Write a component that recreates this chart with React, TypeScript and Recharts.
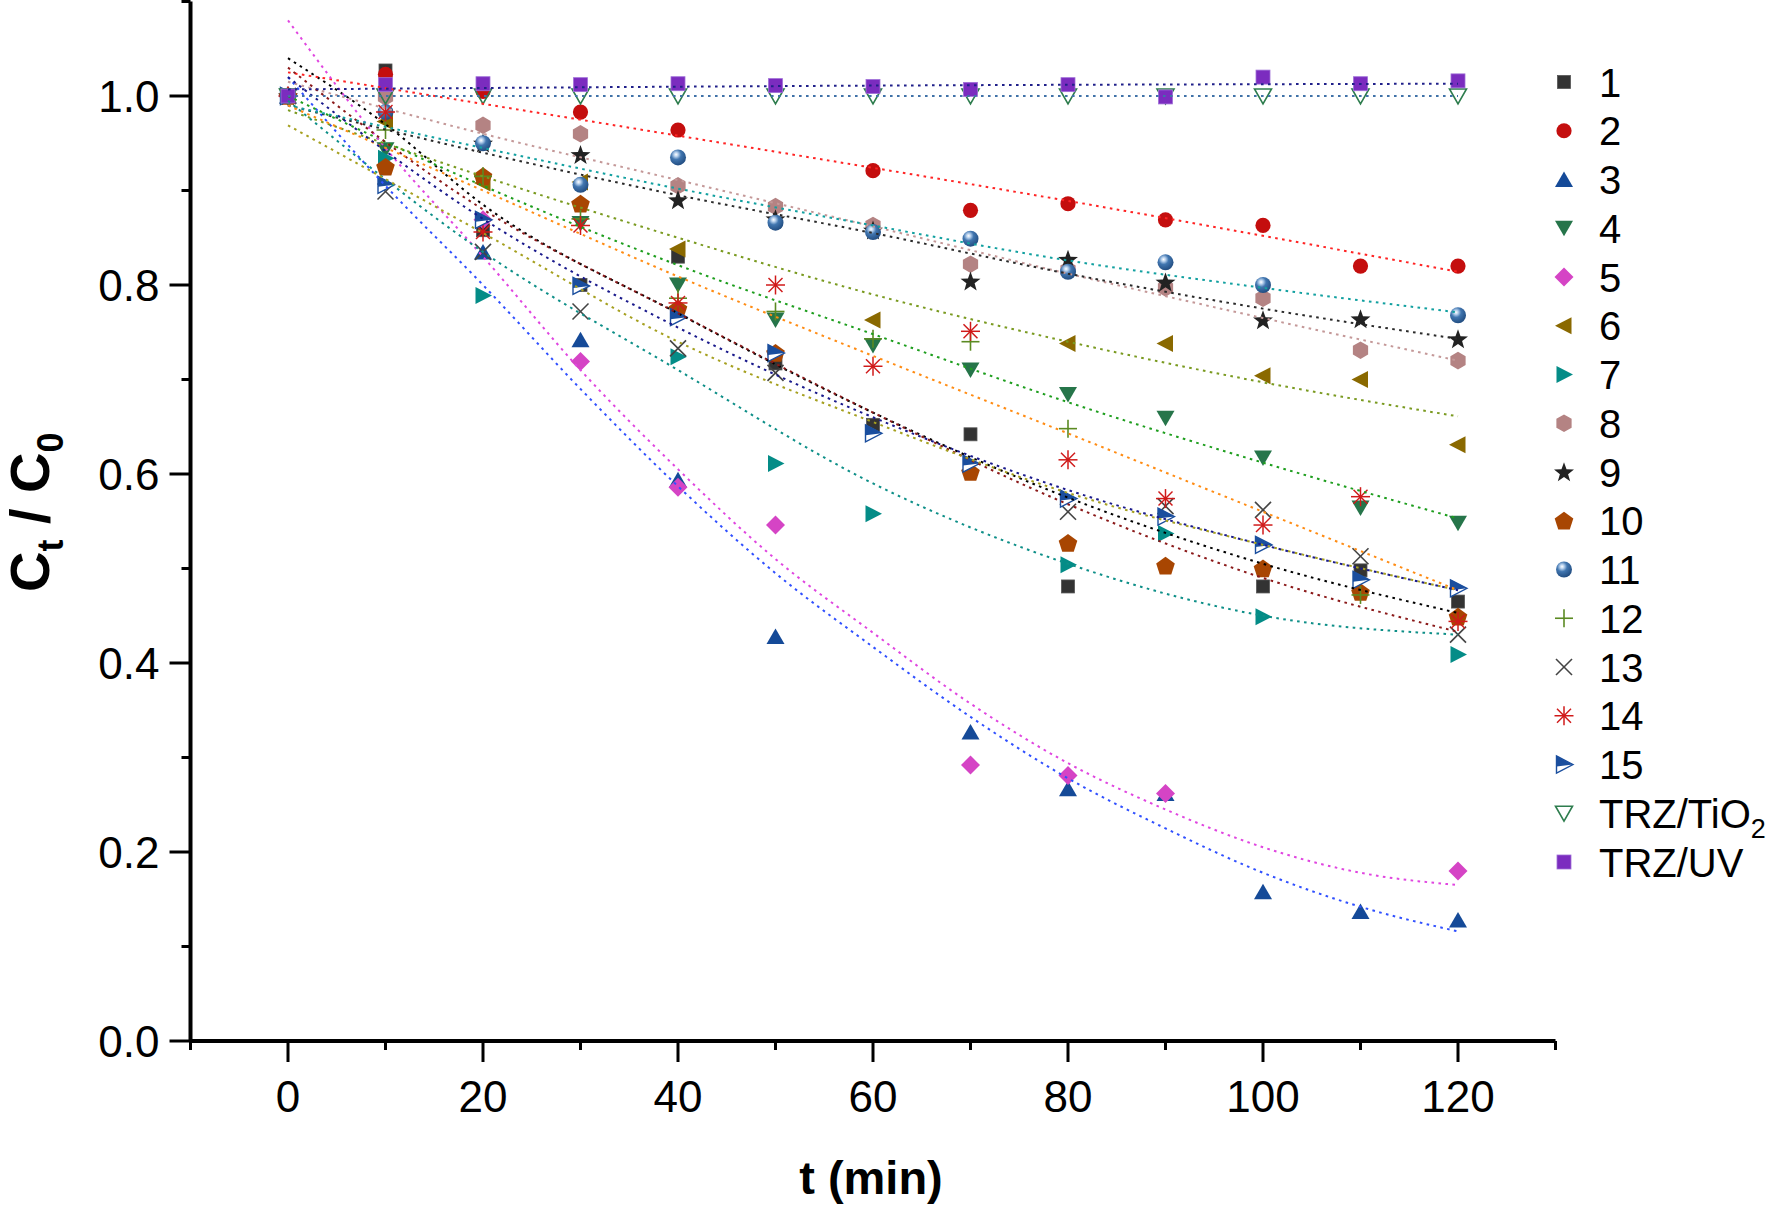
import React from 'react';
import { ScatterChart, Scatter, XAxis, YAxis } from 'recharts';

type P = [number, number];

// ---- measured points (t in min, Ct/C0) ----
const s1: P[] = [[0, 1.0], [10, 1.027], [20, 0.858], [30, 0.8], [40, 0.83], [50, 0.717], [60, 0.652], [70, 0.642], [80, 0.481], [100, 0.481], [110, 0.498], [120, 0.465]];
const s2: P[] = [[0, 1.0], [10, 1.023], [20, 1.005], [30, 0.983], [40, 0.964], [60, 0.921], [70, 0.879], [80, 0.886], [90, 0.869], [100, 0.863], [110, 0.82], [120, 0.82]];
const s3: P[] = [[0, 1.0], [20, 0.835], [30, 0.742], [40, 0.594], [50, 0.428], [70, 0.327], [80, 0.267], [90, 0.262], [100, 0.158], [110, 0.137], [120, 0.128]];
const s4: P[] = [[0, 1.0], [10, 0.943], [30, 0.865], [40, 0.8], [50, 0.763], [60, 0.736], [70, 0.71], [80, 0.684], [90, 0.659], [100, 0.617], [110, 0.564], [120, 0.548]];
const s5: P[] = [[0, 1.0], [20, 0.869], [30, 0.719], [40, 0.586], [50, 0.546], [70, 0.292], [80, 0.281], [90, 0.262], [120, 0.18]];
const s6: P[] = [[0, 1.0], [10, 0.973], [20, 0.908], [30, 0.909], [40, 0.838], [60, 0.763], [80, 0.738], [90, 0.738], [100, 0.704], [110, 0.7], [120, 0.631]];
const s7: P[] = [[0, 1.0], [10, 0.934], [20, 0.789], [40, 0.724], [50, 0.611], [60, 0.558], [80, 0.504], [90, 0.537], [100, 0.449], [120, 0.409]];
const s8: P[] = [[0, 1.0], [10, 0.999], [20, 0.969], [30, 0.96], [40, 0.905], [50, 0.883], [60, 0.863], [70, 0.822], [80, 0.816], [90, 0.797], [100, 0.786], [110, 0.731], [120, 0.72]];
const s9: P[] = [[0, 1.0], [20, 0.95], [30, 0.938], [40, 0.89], [50, 0.87], [60, 0.858], [70, 0.804], [80, 0.827], [90, 0.803], [100, 0.763], [110, 0.764], [120, 0.743]];
const s10: P[] = [[0, 1.0], [10, 0.925], [20, 0.915], [30, 0.886], [40, 0.775], [50, 0.728], [70, 0.602], [80, 0.527], [90, 0.503], [100, 0.5], [110, 0.475], [120, 0.449]];
const s11: P[] = [[0, 1.0], [10, 0.983], [20, 0.95], [30, 0.906], [40, 0.935], [50, 0.866], [60, 0.856], [70, 0.849], [80, 0.814], [90, 0.824], [100, 0.8], [120, 0.768]];
const s12: P[] = [[0, 1.0], [10, 0.964], [20, 0.915], [30, 0.87], [40, 0.786], [50, 0.772], [60, 0.743], [70, 0.74], [80, 0.648], [110, 0.472]];
const s13: P[] = [[0, 1.0], [10, 0.899], [20, 0.835], [30, 0.772], [40, 0.733], [50, 0.707], [80, 0.56], [90, 0.566], [100, 0.562], [110, 0.513], [120, 0.43]];
const s14: P[] = [[0, 1.0], [10, 0.983], [20, 0.856], [30, 0.863], [40, 0.781], [50, 0.8], [60, 0.714], [70, 0.751], [80, 0.615], [90, 0.574], [100, 0.546], [110, 0.576], [120, 0.444]];
const s15: P[] = [[0, 1.0], [10, 0.906], [20, 0.869], [30, 0.799], [40, 0.766], [50, 0.728], [60, 0.643], [70, 0.611], [80, 0.574], [90, 0.555], [100, 0.525], [110, 0.488], [120, 0.479]];
const sTiO2: P[] = [[0, 1.0], [10, 1.0], [20, 1.0], [30, 1.0], [40, 1.0], [50, 1.0], [60, 1.0], [70, 1.0], [80, 1.0], [90, 1.0], [100, 1.0], [110, 1.0], [120, 1.0]];
const sUV: P[] = [[0, 1.0], [10, 1.012], [20, 1.013], [30, 1.012], [40, 1.013], [50, 1.011], [60, 1.01], [70, 1.007], [80, 1.012], [90, 0.999], [100, 1.02], [110, 1.013], [120, 1.016]];

// ---- fitted curves ----
const f1: P[] = [[0, 1.04], [10, 0.97], [20, 0.885], [40, 0.77], [60, 0.665], [80, 0.575], [100, 0.505], [120, 0.453]];
const f2: P[] = [[0, 1.025], [40, 0.958], [80, 0.889], [120, 0.814]];
const f3: P[] = [[0, 1.02], [10, 0.905], [20, 0.8], [30, 0.69], [40, 0.587], [50, 0.495], [60, 0.417], [70, 0.343], [80, 0.278], [90, 0.225], [100, 0.178], [110, 0.142], [120, 0.116]];
const f4: P[] = [[0, 1.0], [20, 0.905], [40, 0.821], [60, 0.748], [80, 0.676], [100, 0.612], [120, 0.553]];
const f5: P[] = [[0, 1.08], [10, 0.945], [20, 0.83], [30, 0.71], [40, 0.605], [50, 0.51], [60, 0.432], [70, 0.357], [80, 0.294], [90, 0.245], [100, 0.205], [110, 0.178], [120, 0.165]];
const f6: P[] = [[0, 0.985], [20, 0.915], [40, 0.85], [60, 0.79], [80, 0.74], [100, 0.697], [120, 0.661]];
const f7: P[] = [[0, 0.995], [20, 0.835], [40, 0.71], [60, 0.59], [80, 0.505], [100, 0.45], [120, 0.43]];
const f8: P[] = [[0, 1.015], [20, 0.96], [40, 0.911], [60, 0.862], [80, 0.812], [100, 0.765], [120, 0.72]];
const f9: P[] = [[0, 0.99], [20, 0.94], [40, 0.895], [60, 0.855], [80, 0.812], [100, 0.775], [120, 0.743]];
const f10: P[] = [[0, 1.03], [20, 0.88], [40, 0.77], [60, 0.665], [80, 0.568], [100, 0.49], [120, 0.433]];
const f11: P[] = [[0, 0.99], [20, 0.945], [40, 0.902], [60, 0.863], [80, 0.826], [100, 0.797], [120, 0.771]];
const f12: P[] = [[0, 0.969], [20, 0.855], [40, 0.74], [60, 0.655], [80, 0.58], [100, 0.525], [120, 0.477]];
const f14: P[] = [[0, 0.99], [20, 0.9], [40, 0.809], [60, 0.725], [80, 0.643], [100, 0.56], [120, 0.477]];
const f15: P[] = [[0, 1.02], [20, 0.87], [40, 0.755], [60, 0.66], [80, 0.583], [100, 0.525], [120, 0.477]];
const fTiO2: P[] = [[0, 1.0], [120, 1.0]];
const fUV: P[] = [[0, 1.007], [60, 1.011], [120, 1.013]];

// ---- axis ticks ----
const xTicks = [-10, 0, 10, 20, 30, 40, 50, 60, 70, 80, 90, 100, 110, 120, 130];
const xLabelled = [0, 20, 40, 60, 80, 100, 120];
const yTicks = [0, 0.1, 0.2, 0.3, 0.4, 0.5, 0.6, 0.7, 0.8, 0.9, 1.0, 1.1];
const yLabelled = [0, 0.2, 0.4, 0.6, 0.8, 1.0];

const seriesNames = ['1', '2', '3', '4', '5', '6', '7', '8', '9', '10', '11', '12', '13', '14', '15', 'TRZ/TiO2', 'TRZ/UV'];

type Kind = 'square' | 'circle' | 'up' | 'down' | 'diamond' | 'left' | 'right' | 'hex' | 'star' | 'pent' | 'sphere' | 'plus' | 'cross' | 'aster' | 'half' | 'open' | 'squareUV';

const SERIES: { name: string; kind: Kind; color: string; data: P[] }[] = [
  { name: seriesNames[0], kind: 'square', color: '#333333', data: s1 },
  { name: seriesNames[1], kind: 'circle', color: '#C40E0E', data: s2 },
  { name: seriesNames[2], kind: 'up', color: '#154A98', data: s3 },
  { name: seriesNames[3], kind: 'down', color: '#26754A', data: s4 },
  { name: seriesNames[4], kind: 'diamond', color: '#D544C5', data: s5 },
  { name: seriesNames[5], kind: 'left', color: '#8A6900', data: s6 },
  { name: seriesNames[6], kind: 'right', color: '#048C87', data: s7 },
  { name: seriesNames[7], kind: 'hex', color: '#B48383', data: s8 },
  { name: seriesNames[8], kind: 'star', color: '#222222', data: s9 },
  { name: seriesNames[9], kind: 'pent', color: '#A84602', data: s10 },
  { name: seriesNames[10], kind: 'sphere', color: '#3A6AA0', data: s11 },
  { name: seriesNames[11], kind: 'plus', color: '#5B8A22', data: s12 },
  { name: seriesNames[12], kind: 'cross', color: '#444444', data: s13 },
  { name: seriesNames[13], kind: 'aster', color: '#D01A1A', data: s14 },
  { name: seriesNames[14], kind: 'half', color: '#1A4E9E', data: s15 },
  { name: seriesNames[15], kind: 'open', color: '#2E7D4E', data: sTiO2 },
  { name: seriesNames[16], kind: 'squareUV', color: '#7B2CBF', data: sUV },
];

const FITS: { data: P[]; color: string }[] = [
  { data: f1, color: '#000000' },
  { data: f2, color: '#FF2424' },
  { data: f3, color: '#3050FF' },
  { data: f4, color: '#1E9E1E' },
  { data: f5, color: '#E046E0' },
  { data: f6, color: '#7A9A20' },
  { data: f7, color: '#0E8F88' },
  { data: f8, color: '#C49898' },
  { data: f9, color: '#2A2A2A' },
  { data: f10, color: '#8B1A1A' },
  { data: f11, color: '#12A0A0' },
  { data: f12, color: '#A6A020' },
  { data: f14, color: '#FF8C14' },
  { data: f15, color: '#1A1A8C' },
  { data: fTiO2, color: '#4072A8' },
  { data: fUV, color: '#20208A' },
];

const FONT = '"Liberation Sans", Arial, Helvetica, sans-serif';

const toPts = (d: P[]) => d.map(([t, v]) => ({ t, v }));

function Marker({ kind, color, cx, cy }: { kind: Kind; color: string; cx: number; cy: number }) {
  if (cx == null || cy == null || isNaN(cx) || isNaN(cy)) return <g />;
  const pts = (arr: number[][]) => arr.map(([a, b]) => `${cx + a},${cy + b}`).join(' ');
  switch (kind) {
    case 'square':
      return <rect x={cx - 6.5} y={cy - 6.5} width={13} height={13} fill={color} stroke="#555" strokeWidth={0.8} />;
    case 'squareUV':
      return <rect x={cx - 7} y={cy - 7} width={14} height={14} fill={color} stroke="#A070D8" strokeWidth={0.8} />;
    case 'circle':
      return <circle cx={cx} cy={cy} r={7.6} fill={color} />;
    case 'up':
      return <polygon points={pts([[0, -8], [9, 7.5], [-9, 7.5]])} fill={color} />;
    case 'down':
      return <polygon points={pts([[-9, -7.5], [9, -7.5], [0, 8]])} fill={color} />;
    case 'open':
      return <polygon points={pts([[-8.5, -7], [8.5, -7], [0, 8]])} fill="none" stroke={color} strokeWidth={1.6} />;
    case 'diamond':
      return <polygon points={pts([[0, -9.5], [9.5, 0], [0, 9.5], [-9.5, 0]])} fill={color} />;
    case 'left':
      return <polygon points={pts([[-9, 0], [7.5, -8.5], [7.5, 8.5]])} fill={color} />;
    case 'right':
      return <polygon points={pts([[9, 0], [-7.5, -8.5], [-7.5, 8.5]])} fill={color} />;
    case 'half':
      return (
        <g>
          <polygon points={pts([[9, 0], [-7.5, -8.5], [-7.5, 8.5]])} fill="#ffffff" stroke={color} strokeWidth={1.4} />
          <polygon points={pts([[9, 0], [-7.5, -8.5], [-7.5, 2]])} fill={color} />
        </g>
      );
    case 'hex': {
      const a: number[][] = [];
      for (let i = 0; i < 6; i++) {
        const ang = (Math.PI / 180) * (-90 + 60 * i);
        a.push([8.8 * Math.cos(ang), 8.8 * Math.sin(ang)]);
      }
      return <polygon points={pts(a)} fill={color} />;
    }
    case 'pent': {
      const a: number[][] = [];
      for (let i = 0; i < 5; i++) {
        const ang = (Math.PI / 180) * (-90 + 72 * i);
        a.push([9.8 * Math.cos(ang), 9.8 * Math.sin(ang) + 0.8]);
      }
      return <polygon points={pts(a)} fill={color} />;
    }
    case 'star': {
      const a: number[][] = [];
      for (let i = 0; i < 10; i++) {
        const r = i % 2 === 0 ? 10.5 : 4.3;
        const ang = (Math.PI / 180) * (-90 + 36 * i);
        a.push([r * Math.cos(ang), r * Math.sin(ang) + 0.8]);
      }
      return <polygon points={pts(a)} fill={color} />;
    }
    case 'sphere':
      return <circle cx={cx} cy={cy} r={8} fill="url(#sphereGrad)" />;
    case 'plus':
      return (
        <g stroke={color} strokeWidth={1.6}>
          <line x1={cx - 9} y1={cy} x2={cx + 9} y2={cy} />
          <line x1={cx} y1={cy - 9} x2={cx} y2={cy + 9} />
        </g>
      );
    case 'cross':
      return (
        <g stroke={color} strokeWidth={1.6}>
          <line x1={cx - 8} y1={cy - 8} x2={cx + 8} y2={cy + 8} />
          <line x1={cx - 8} y1={cy + 8} x2={cx + 8} y2={cy - 8} />
        </g>
      );
    case 'aster':
      return (
        <g stroke={color} strokeWidth={1.5}>
          <line x1={cx - 9.5} y1={cy} x2={cx + 9.5} y2={cy} />
          <line x1={cx} y1={cy - 9.5} x2={cx} y2={cy + 9.5} />
          <line x1={cx - 7} y1={cy - 7} x2={cx + 7} y2={cy + 7} />
          <line x1={cx - 7} y1={cy + 7} x2={cx + 7} y2={cy - 7} />
          <circle cx={cx} cy={cy} r={1.6} fill={color} stroke="none" />
        </g>
      );
    default:
      return <g />;
  }
}

function SphereDefs() {
  return (
    <defs>
      <radialGradient id="sphereGrad" cx="0.38" cy="0.32" r="0.7">
        <stop offset="0" stopColor="#ffffff" />
        <stop offset="0.18" stopColor="#b9d2ee" />
        <stop offset="0.45" stopColor="#4176b0" />
        <stop offset="1" stopColor="#214c80" />
      </radialGradient>
    </defs>
  );
}

function XTick(props: any) {
  const { x, y, payload } = props;
  const v = payload.value;
  const major = xLabelled.includes(v);
  return (
    <g>
      <line x1={x} y1={y} x2={x} y2={y + (major ? 21 : 9)} stroke="#000" strokeWidth={3} />
      {major && (
        <text x={x} y={y + 71} textAnchor="middle" fontFamily={FONT} fontSize={44} fill="#000">
          {v}
        </text>
      )}
    </g>
  );
}

function YTick(props: any) {
  const { x, y, payload } = props;
  const v = payload.value;
  const major = yLabelled.some((m) => Math.abs(m - v) < 1e-6);
  return (
    <g>
      <line x1={x - (major ? 21 : 9)} y1={y} x2={x} y2={y} stroke="#000" strokeWidth={3} />
      {major && (
        <text x={x - 31} y={y + 16} textAnchor="end" fontFamily={FONT} fontSize={44} fill="#000">
          {v.toFixed(1)}
        </text>
      )}
    </g>
  );
}

function XTitle(props: any) {
  const vb = props.viewBox || { x: 190.5, y: 1041, width: 1365 };
  return (
    <text x={vb.x + vb.width / 2 - 2} y={vb.y + 153} textAnchor="middle" fontFamily={FONT} fontWeight="bold" fontSize={47} fill="#000">
      t (min)
    </text>
  );
}

function YTitle(props: any) {
  const vb = props.viewBox || { x: 0, y: 1.5, width: 190.5, height: 1039.5 };
  const cx = vb.x + 49;
  const cy = vb.y + vb.height / 2 - 9;
  return (
    <text x={cx} y={cy} transform={`rotate(-90, ${cx}, ${cy})`} textAnchor="middle" fontFamily={FONT} fontWeight="bold" fontSize={56} fill="#000">
      C<tspan fontSize={36} dy={14}>t</tspan>
      <tspan dy={-14}> / C</tspan>
      <tspan fontSize={36} dy={14}>0</tspan>
    </text>
  );
}

function LegendBlock() {
  const x0 = 1564;
  const y0 = 82;
  const step = 48.75;
  return (
    <svg width={1772} height={1206} style={{ position: 'absolute', left: 0, top: 0, pointerEvents: 'none' }}>
      {SERIES.map((s, i) => {
        const cy = y0 + i * step;
        const label = s.name === 'TRZ/TiO2' ? (
          <>
            TRZ/TiO<tspan fontSize={27} dy={10}>2</tspan>
          </>
        ) : (
          s.name
        );
        return (
          <g key={s.name}>
            <Marker kind={s.kind} color={s.color} cx={x0} cy={cy} />
            <text x={1599} y={cy + 14.5} fontFamily={FONT} fontSize={40} fill="#000">
              {label}
            </text>
          </g>
        );
      })}
    </svg>
  );
}

export default function App() {
  return (
    <div style={{ position: 'absolute', left: 0, top: 0, width: 1772, height: 1206, background: '#fff' }}>
      <svg width={0} height={0} style={{ position: 'absolute' }}>
        <SphereDefs />
      </svg>
      <ScatterChart width={1772} height={1206} margin={{ top: 1.5, right: 216.5, bottom: 0, left: 0 }}>
        <XAxis
          type="number"
          dataKey="t"
          domain={[-10, 130]}
          ticks={xTicks}
          interval={0}
          allowDataOverflow
          height={165}
          tickSize={0}
          tickMargin={0}
          tickLine={false}
          axisLine={{ stroke: '#000', strokeWidth: 4 }}
          tick={XTick}
          label={XTitle}
        />
        <YAxis
          type="number"
          dataKey="v"
          domain={[0, 1.1]}
          ticks={yTicks}
          interval={0}
          allowDataOverflow
          width={190.5}
          tickSize={0}
          tickMargin={0}
          tickLine={false}
          axisLine={{ stroke: '#000', strokeWidth: 4 }}
          tick={YTick}
          label={YTitle}
        />
        {SERIES.map((s) => (
          <Scatter
            key={'s' + s.name}
            name={s.name}
            data={toPts(s.data)}
            isAnimationActive={false}
            shape={(p: any) => <Marker kind={s.kind} color={s.color} cx={p.cx} cy={p.cy} />}
          />
        ))}
        {FITS.map((f, i) => (
          <Scatter
            key={'f' + i}
            data={toPts(f.data)}
            isAnimationActive={false}
            line={{ stroke: f.color, strokeWidth: 2, strokeDasharray: '2.6 4.4' }}
            lineJointType="monotoneX"
            shape={() => <g />}
          />
        ))}
      </ScatterChart>
      <LegendBlock />
    </div>
  );
}
